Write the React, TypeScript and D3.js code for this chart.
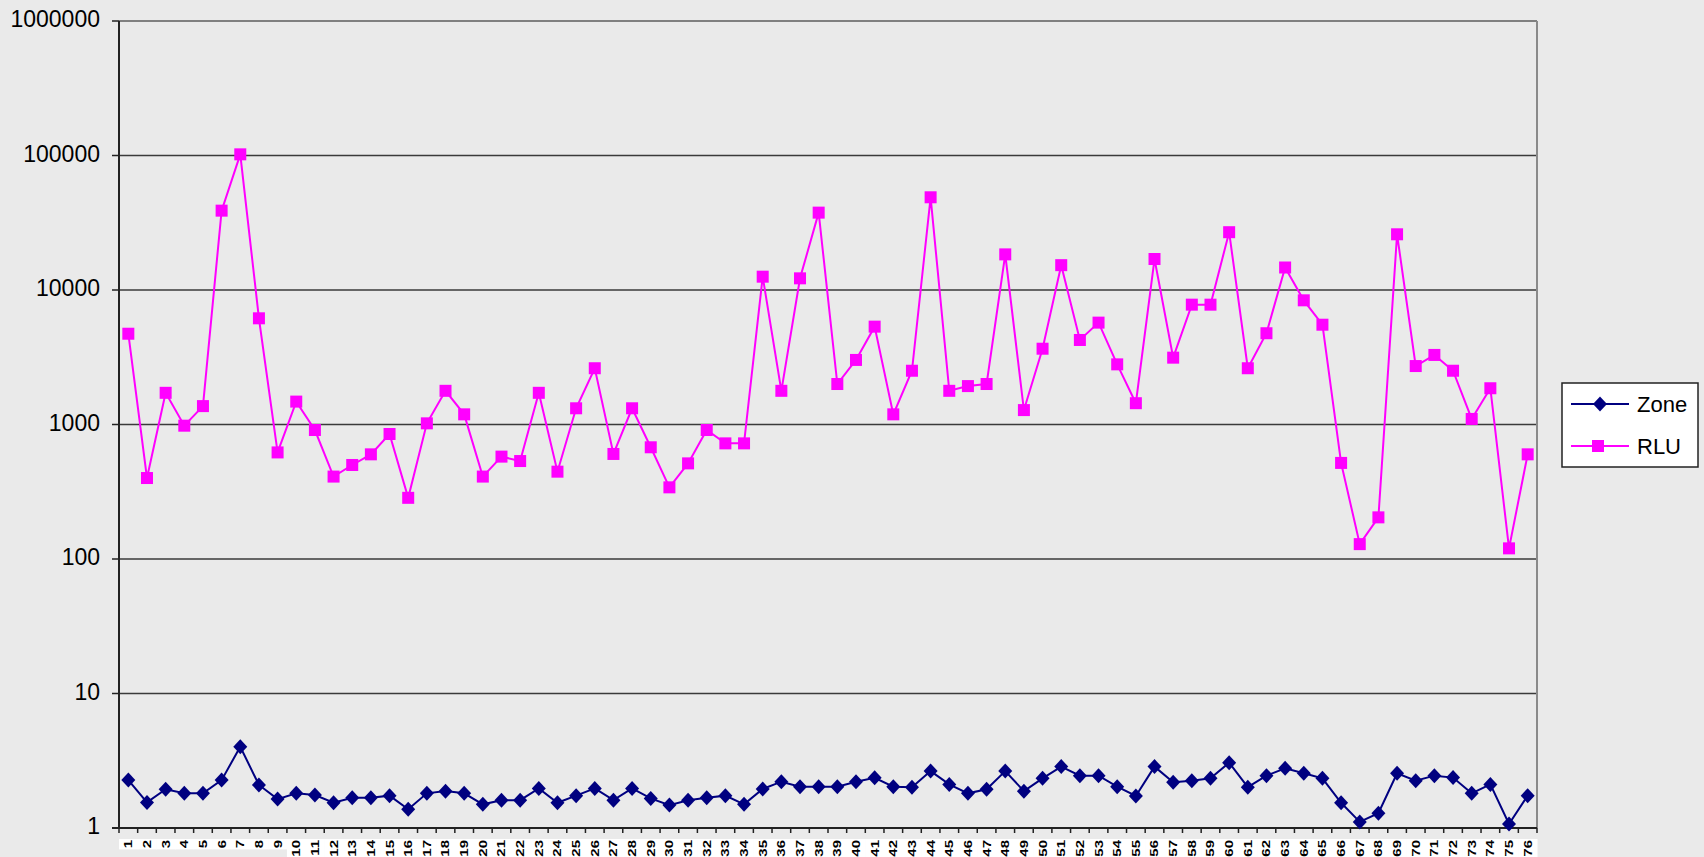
import React from "react";
import * as d3 from "d3";

const categories = [
  "1", "2", "3", "4", "5", "6", "7", "8", "9", "10", "11", "12", "13", "14", "15", "16", "17", "18", "19",
  "20", "21", "22", "23", "24", "25", "26", "27", "28", "29", "30", "31", "32", "33", "34", "35", "36", "37", "38",
  "39", "40", "41", "42", "43", "44", "45", "46", "47", "48", "49", "50", "51", "52", "53", "54", "55", "56", "57",
  "58", "59", "60", "61", "62", "63", "64", "65", "66", "67", "68", "69", "70", "71", "72", "73", "74", "75", "76",
];

const zoneValues = [
  2.27, 1.55, 1.94, 1.81, 1.81, 2.27, 4.02, 2.09, 1.64, 1.81, 1.76, 1.54, 1.68, 1.68, 1.74, 1.38, 1.81, 1.88, 1.81,
  1.5, 1.61, 1.61, 1.97, 1.54, 1.74, 1.97, 1.61, 1.97, 1.66, 1.48, 1.61, 1.68, 1.74, 1.5, 1.95, 2.21, 2.03, 2.03,
  2.03, 2.21, 2.36, 2.03, 2.01, 2.65, 2.11, 1.81, 1.94, 2.65, 1.88, 2.34, 2.86, 2.45, 2.45, 2.03, 1.73, 2.86, 2.19,
  2.25, 2.34, 3.06, 2.01, 2.45, 2.78, 2.55, 2.34, 1.54, 1.11, 1.29, 2.55, 2.25, 2.45, 2.37, 1.81, 2.11, 1.07, 1.74,
];

const rluValues = [
  4730, 400, 1720, 980, 1370, 38900, 102000, 6160, 620, 1480, 910, 410, 500, 600, 850, 285, 1020, 1780, 1190,
  410, 577, 535, 1720, 446, 1320, 2620, 604, 1320, 677, 341, 514, 910, 724, 724, 12560, 1780, 12210, 37600,
  2000, 3020, 5340, 1190, 2510, 48900, 1780, 1930, 2000, 18400, 1280, 3660, 15300, 4250, 5720, 2800, 1440, 17000, 3140,
  7780, 7780, 26900, 2620, 4770, 14700, 8380, 5520, 518, 129, 204, 25950, 2720, 3290, 2510, 1100, 1860, 120, 600,
];

const yTicks = [1, 10, 100, 1000, 10000, 100000, 1000000];
const seriesNames = ["Zone", "RLU"];

const W = 1704;
const H = 857;
const plot = { left: 119, right: 1537, top: 21, bottom: 828 };
const bg = "#eaeaea";
const zoneColor = "#000080";
const rluColor = "#ff00ff";

function Diamond({ x, y }: { x: number; y: number }) {
  return (
    <path
      d={`M${x},${y - 7.5}L${x + 7},${y}L${x},${y + 7.5}L${x - 7},${y}Z`}
      fill={zoneColor}
    />
  );
}

function Square({ x, y }: { x: number; y: number }) {
  return <rect x={x - 6} y={y - 6} width={12} height={12} fill={rluColor} />;
}

export default function App() {
  const x = d3.scaleBand<string>().domain(categories).range([plot.left, plot.right]).padding(0);
  const y = d3.scaleLog().domain([1, 1000000]).range([plot.bottom, plot.top]);
  const cx = (c: string) => (x(c) as number) + x.bandwidth() / 2;

  const line = d3
    .line<number>()
    .x((_, i) => cx(categories[i]))
    .y((d) => y(d));

  const font = "'Liberation Sans', Arial, sans-serif";

  return (
    <svg
      width={W}
      height={H}
      style={{ position: "absolute", top: 0, left: 0, background: bg }}
      fontFamily={font}
    >
      <rect x={0} y={0} width={W} height={H} fill={bg} />

      {/* gridlines */}
      {yTicks.slice(1, -1).map((t) => (
        <line key={t} x1={plot.left} x2={plot.right} y1={y(t)} y2={y(t)} stroke="#3a3a3a" strokeWidth={1.5} />
      ))}
      {/* top and right border */}
      <line x1={plot.left} x2={plot.right} y1={plot.top} y2={plot.top} stroke="#808080" strokeWidth={2} />
      <line x1={plot.right} x2={plot.right} y1={plot.top} y2={plot.bottom} stroke="#8a8a8a" strokeWidth={2} />

      {/* y axis */}
      <line x1={plot.left} x2={plot.left} y1={plot.top} y2={plot.bottom} stroke="#222" strokeWidth={2} />
      {yTicks.map((t) => (
        <g key={t}>
          <line x1={plot.left - 7} x2={plot.left} y1={y(t)} y2={y(t)} stroke="#222" strokeWidth={1.5} />
          <text x={100} y={y(t)} dy="0.27em" textAnchor="end" fontSize={23} fill="#000">
            {t}
          </text>
        </g>
      ))}

      {/* x axis */}
      <line x1={plot.left - 7} x2={plot.right} y1={plot.bottom} y2={plot.bottom} stroke="#222" strokeWidth={2} />
      {categories.map((c) => (
        <line
          key={"t" + c}
          x1={x(c) as number}
          x2={x(c) as number}
          y1={plot.bottom}
          y2={plot.bottom + 5}
          stroke="#222"
          strokeWidth={1.5}
        />
      ))}
      <line x1={plot.right} x2={plot.right} y1={plot.bottom} y2={plot.bottom + 5} stroke="#222" strokeWidth={1.5} />
      {categories.map((c) => (
        <rect
          key={"b" + c}
          x={x(c) as number}
          y={839}
          width={x.bandwidth() + 0.5}
          height={c.length * 8.4 + 2}
          fill="#fff"
        />
      ))}
      {categories.map((c) => (
        <g key={"l" + c} transform={`translate(${cx(c)},840) rotate(-90)`}>
          <g transform="scale(1.36,1)">
            <text x={0} y={0} dy="0.36em" textAnchor="end" fontSize={11} fontWeight="bold" fill="#000">
              {c}
            </text>
          </g>
        </g>
      ))}

      {/* series */}
      <path d={line(rluValues) || ""} fill="none" stroke={rluColor} strokeWidth={2} />
      {rluValues.map((v, i) => (
        <Square key={"r" + i} x={cx(categories[i])} y={y(v)} />
      ))}
      <path d={line(zoneValues) || ""} fill="none" stroke={zoneColor} strokeWidth={2} />
      {zoneValues.map((v, i) => (
        <Diamond key={"z" + i} x={cx(categories[i])} y={y(v)} />
      ))}

      {/* legend */}
      <rect x={1562} y={383} width={136} height={84} fill="#fff" stroke="#222" strokeWidth={1.5} />
      <line x1={1571} x2={1629} y1={404} y2={404} stroke={zoneColor} strokeWidth={2} />
      <Diamond x={1600} y={404} />
      <text x={1637} y={404} dy="0.36em" fontSize={22} fill="#000">
        {seriesNames[0]}
      </text>
      <line x1={1571} x2={1629} y1={446} y2={446} stroke={rluColor} strokeWidth={2} />
      <Square x={1598} y={446} />
      <text x={1637} y={446} dy="0.36em" fontSize={22} fill="#000">
        {seriesNames[1]}
      </text>
    </svg>
  );
}
